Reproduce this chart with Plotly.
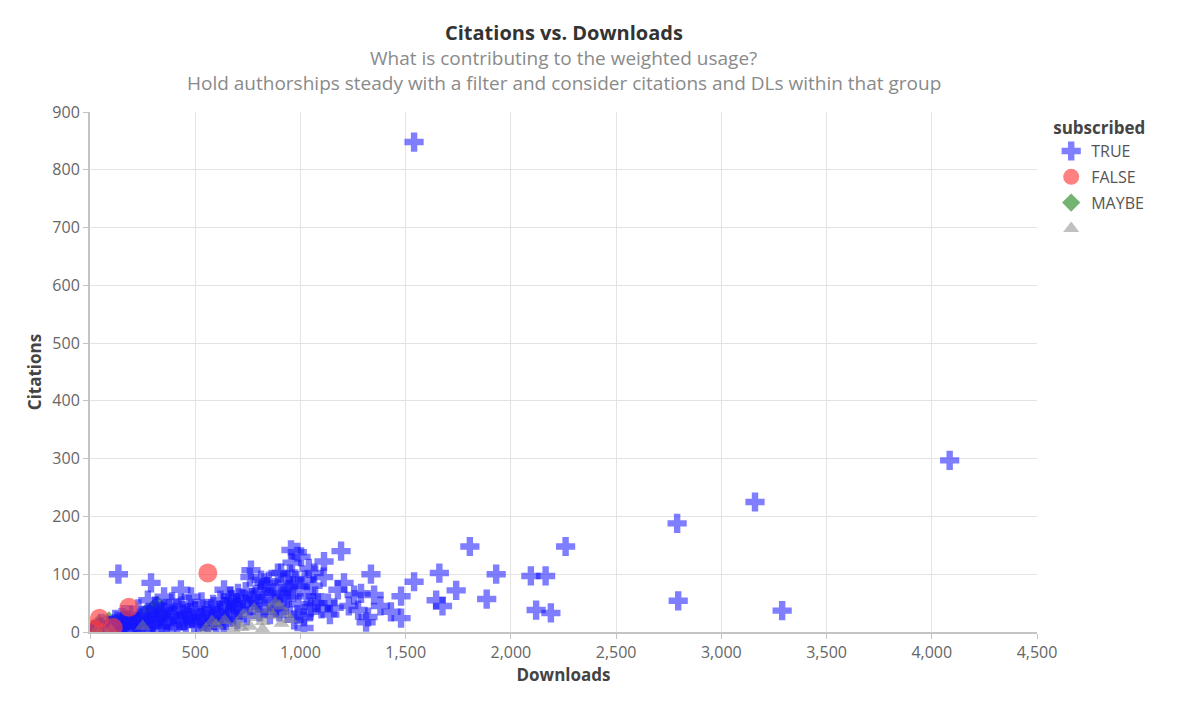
import plotly.graph_objects as go

# subscribed = TRUE
true_downloads = [1540, 4085, 3160, 2790, 2795, 3289, 2260, 2095, 2165, 2120,
                  2190, 1930, 1885, 1805, 1740, 1660, 1645, 1675, 1540, 1478,
                  1478, 1430, 1350, 1335, 1321, 1312, 1288, 1274, 1255, 1207,
                  1193, 1178, 1131, 1112, 1083, 1065, 1050, 1017, 1017, 1003,
                  970, 955, 941, 908, 908, 893, 860, 827, 813, 780,
                  765, 703, 637, 480, 432, 352, 290, 275, 135, 20,
                  45, 70, 95, 115, 140, 160, 180, 200, 215, 235,
                  250, 265, 285, 300, 320, 335, 350, 365, 380, 395,
                  410, 425, 440, 455, 470, 485, 500, 515, 530, 545,
                  560, 575, 590, 605, 620, 635, 650, 665, 680, 695,
                  710, 725, 740, 760, 790, 805, 840, 870, 885, 920,
                  935, 960, 975, 990, 1030, 1045, 1100, 1140, 1160, 1230,
                  1380, 1000, 160, 230, 310, 390, 460, 540, 620, 660,
                  700, 670, 120, 55, 330, 575, 950, 855, 920, 1060,
                  100, 130, 150, 175, 190, 205, 225, 245, 260, 275,
                  295, 315, 340, 355, 375, 400, 415, 435, 450, 475,
                  495, 520, 535, 555, 585, 600, 615, 645, 660, 685,
                  720, 745, 770, 800, 815, 830, 850, 880, 900, 945,
                  965, 985, 1020, 1070, 1110, 1040, 985, 760]
true_citations = [848, 297, 225, 188, 54, 37, 148, 97, 97, 38,
                  33, 100, 57, 148, 72, 102, 55, 45, 87, 62,
                  24, 35, 64, 100, 26, 17, 67, 38, 64, 85,
                  140, 73, 50, 122, 50, 102, 43, 26, 7, 130,
                  21, 142, 73, 102, 67, 102, 61, 85, 90, 55,
                  107, 67, 73, 61, 73, 61, 85, 55, 100, 4,
                  8, 3, 12, 6, 16, 9, 20, 5, 13, 24,
                  8, 17, 30, 11, 21, 6, 35, 15, 27, 9,
                  42, 19, 31, 12, 48, 24, 36, 15, 52, 28,
                  8, 40, 20, 33, 55, 14, 44, 62, 27, 50,
                  38, 58, 70, 45, 65, 35, 78, 55, 42, 85,
                  58, 120, 92, 48, 62, 35, 40, 30, 42, 45,
                  45, 78, 30, 40, 45, 52, 28, 18, 25, 34,
                  22, 55, 22, 15, 38, 32, 100, 30, 40, 80,
                  10, 5, 25, 12, 30, 8, 18, 28, 5, 22,
                  16, 33, 10, 22, 40, 30, 8, 45, 20, 33,
                  12, 25, 40, 18, 48, 10, 38, 20, 50, 42,
                  48, 28, 60, 50, 72, 40, 88, 68, 35, 62,
                  80, 30, 90, 62, 95, 110, 138, 95]

# subscribed = FALSE
false_downloads = [560, 45, 185, 20, 110]
false_citations = [102, 24, 43, 5, 8]

# subscribed = MAYBE
maybe_downloads = [10, 30, 50, 80, 120, 170, 260, 320, 350, 200, 90, 300, 150, 40]
maybe_citations = [3, 6, 10, 4, 14, 25, 32, 48, 28, 18, 20, 40, 5, 15]

# subscribed = (null)
null_downloads = [600, 640, 700, 730, 760, 790, 820, 850, 870, 900,
                  930, 950, 720, 680, 780, 880, 910, 820, 550, 580,
                  30, 60, 100, 250]
null_citations = [12, 20, 15, 30, 10, 25, 18, 38, 28, 45,
                  32, 22, 8, 5, 40, 50, 15, 5, 5, 18,
                  2, 5, 3, 10]

x_ticks = [0, 500, 1000, 1500, 2000, 2500, 3000, 3500, 4000, 4500]
y_ticks = [0, 100, 200, 300, 400, 500, 600, 700, 800, 900]

FONT = "Open Sans"

fig = go.Figure()

# draw order: MAYBE at the back, then TRUE, null, FALSE on top
fig.add_trace(go.Scatter(
    x=maybe_downloads, y=maybe_citations, mode="markers", name="MAYBE",
    legendgroup="maybe", legendrank=3,
    marker=dict(symbol="diamond", size=14, color="rgba(40,140,40,0.65)"),
))
fig.add_trace(go.Scatter(
    x=true_downloads, y=true_citations, mode="markers", name="TRUE",
    legendgroup="true", legendrank=1,
    marker=dict(symbol="cross", size=16, color="rgba(20,20,255,0.55)"),
))
fig.add_trace(go.Scatter(
    x=null_downloads, y=null_citations, mode="markers", name=" ",
    legendgroup="null", legendrank=4,
    marker=dict(symbol="triangle-up", size=14, color="rgba(130,130,130,0.5)"),
))
fig.add_trace(go.Scatter(
    x=false_downloads, y=false_citations, mode="markers", name="FALSE",
    legendgroup="false", legendrank=2,
    marker=dict(symbol="circle", size=19, color="rgba(255,60,60,0.65)"),
))

axis_common = dict(
    showgrid=True, gridcolor="#e3e3e3", gridwidth=1,
    showline=True, linecolor="#c4c4c4", linewidth=2,
    ticks="outside", ticklen=5, tickcolor="#c4c4c4",
    tickfont=dict(family=FONT, size=16, color="#666666"),
    zeroline=False, tickformat=",d",
)

fig.update_xaxes(
    range=[0, 4500], tickvals=x_ticks,
    title=dict(text="<b>Downloads</b>", font=dict(family=FONT, size=17, color="#444444"), standoff=4),
    **axis_common,
)
fig.update_yaxes(
    range=[0, 900], tickvals=y_ticks,
    title=dict(text="<b>Citations</b>", font=dict(family=FONT, size=17, color="#444444"), standoff=6),
    **axis_common,
)

fig.update_layout(
    width=1184, height=708,
    margin=dict(l=82, r=155, t=104, b=84),
    plot_bgcolor="white", paper_bgcolor="white",
    font=dict(family=FONT, color="#555555"),
    legend=dict(
        title=dict(text="<b>subscribed</b>", font=dict(family=FONT, size=17, color="#444444")),
        x=1.015, xanchor="left", y=1.0, yanchor="top",
        font=dict(family=FONT, size=16, color="#555555"),
        tracegroupgap=2, itemsizing="trace",
    ),
    annotations=[
        dict(text="<b>Citations vs. Downloads</b>", xref="paper", yref="paper",
             x=0.5, y=1, yshift=80, showarrow=False, yanchor="middle",
             font=dict(family=FONT, size=20, color="#333333")),
        dict(text="What is contributing to the weighted usage?", xref="paper", yref="paper",
             x=0.5, y=1, yshift=54, showarrow=False, yanchor="middle",
             font=dict(family=FONT, size=19, color="#8a8a8a")),
        dict(text="Hold authorships steady with a filter and consider citations and DLs within that group",
             xref="paper", yref="paper",
             x=0.5, y=1, yshift=29, showarrow=False, yanchor="middle",
             font=dict(family=FONT, size=19, color="#8a8a8a")),
    ],
)

fig.write_html("out.html")
